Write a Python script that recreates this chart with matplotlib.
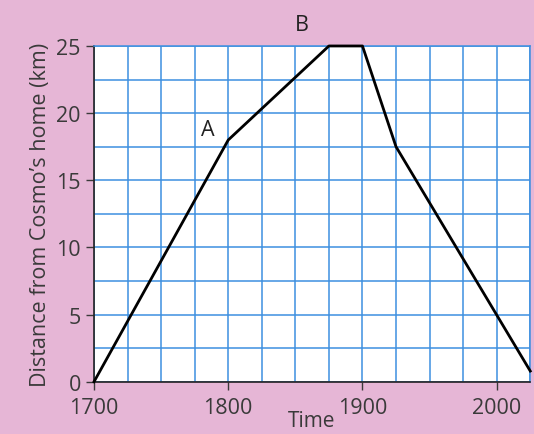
import matplotlib.pyplot as plt
import numpy as np

# journey: time vs distance from home
times = [1700, 1800, 1875, 1900, 1925, 2025]
dist_km = [0, 18, 25, 25, 17.5, 0.8]

xticks = [1700, 1800, 1900, 2000]
yticks = [0, 5, 10, 15, 20, 25]

pink = '#e6b6d6'
blue = '#3d8fe0'

plt.rcParams['font.family'] = ['Open Sans', 'DejaVu Sans']

fig = plt.figure(figsize=(5.34, 4.35), dpi=100, facecolor=pink)
ax = fig.add_axes([0.176, 0.12, 0.817, 0.772])
ax.set_facecolor('white')

# grid every 25 years / 2.5 km
ax.set_xticks(np.arange(1700, 2026, 25), minor=True)
ax.set_yticks(np.arange(0, 25.1, 2.5), minor=True)
ax.grid(which='both', color=blue, lw=1.1)
ax.tick_params(which='minor', length=0)

ax.plot(times, dist_km, color='black', lw=2, zorder=3, clip_on=False)

ax.set_xlim(1700, 2025)
ax.set_ylim(0, 25)
ax.set_xticks(xticks)
ax.set_yticks(yticks)
ax.tick_params(which='major', length=6, width=1, labelsize=15.5, colors='#3a3a3a')
ax.tick_params(axis='x', which='major', pad=5)

for s in ['top', 'right']:
    ax.spines[s].set_color(blue)
    ax.spines[s].set_linewidth(1.1)
for s in ['left', 'bottom']:
    ax.spines[s].set_color('#222222')
    ax.spines[s].set_linewidth(1.2)

ax.text(1785, 18.8, 'A', fontsize=15.5, ha='center', va='center', color='#222222')
ax.text(1855, 26.6, 'B', fontsize=15.5, ha='center', va='center', color='#222222',
        clip_on=False)

ax.set_xlabel('Time', fontsize=15, color='#3a3a3a', labelpad=-6)
ax.set_ylabel('Distance from Cosmo\u2019s home (km)', fontsize=15.5, color='#3a3a3a',
              labelpad=4)

fig.savefig('out.png', dpi=100, facecolor=pink)
